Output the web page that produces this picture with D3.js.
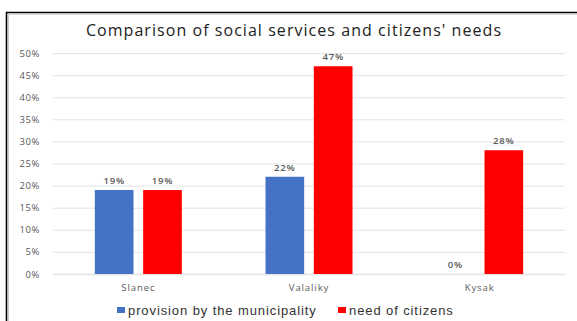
<!DOCTYPE html>
<html><head><meta charset="utf-8">
<script src="https://cdn.jsdelivr.net/npm/d3@7"></script>
<style>body{margin:0;background:#fff}svg{display:block}</style>
</head><body>
<svg id="c" width="577" height="321"></svg>
<script>
const categories = ["Slanec", "Valaliky", "Kysak"];
const seriesNames = ["provision by the municipality", "need of citizens"];
const provision = [19, 22, 0];
const need = [19, 47, 28];
const yTicks = [0, 5, 10, 15, 20, 25, 30, 35, 40, 45, 50];
const colors = ["#4472C4", "#FF0000"];
const title = "Comparison of social services and citizens' needs";

const svg = d3.select("#c");
// frame
svg.append("path").attr("d","M6.5,321 L6.5,12.5 L577,12.5").attr("fill","none").attr("stroke","#000").attr("stroke-width",1.6);
svg.append("path").attr("d","M8.5,321 L8.5,14.3 L577,14.3").attr("fill","none").attr("stroke","#ccc").attr("stroke-width",1);

const m = {l:53, r:565, t:53, b:274};
const x0 = d3.scaleBand().domain(categories).range([m.l, m.r]);
const x1 = d3.scaleBand().domain(seriesNames).range([0, 87]).paddingInner(0.2);
const y = d3.scaleLinear().domain([0, 50]).range([m.b, m.t]);

svg.append("text").attr("x", 294).attr("y", 36).attr("text-anchor","middle")
  .attr("font-family","Open Sans").attr("font-size",16).attr("letter-spacing",1.05).attr("fill","#222").text(title);

const yAxis = d3.axisLeft(y).tickValues(yTicks).tickSize(-(m.r-m.l)).tickFormat(d=>d+"%");
const gy = svg.append("g").attr("transform",`translate(${m.l},0)`).call(yAxis);
gy.select(".domain").remove();
gy.selectAll(".tick line").attr("stroke","#e3e3e3").attr("stroke-width",1);
gy.selectAll(".tick text").attr("x",-13).attr("font-family","Open Sans").attr("font-size",9.5).attr("letter-spacing",0.6).attr("fill","#595959");

const xAxis = d3.axisBottom(x0).tickSize(0).tickPadding(10);
const gx = svg.append("g").attr("transform",`translate(0,${m.b})`).call(xAxis);
gx.select(".domain").attr("stroke","#e3e3e3").attr("stroke-width",1.5);
gx.selectAll(".tick text").attr("font-family","Open Sans").attr("font-size",9.5).attr("letter-spacing",0.9).attr("fill","#595959");

const data = categories.map((c,i)=>({c, vals:[provision[i], need[i]]}));
const g = svg.selectAll(".grp").data(data).join("g")
  .attr("transform", d=>`translate(${x0(d.c)+x0.bandwidth()/2-43.5},0)`);
g.selectAll("rect").data(d=>d.vals.map((v,j)=>({v, s:seriesNames[j], j}))).join("rect")
  .attr("x", d=>x1(d.s)).attr("width", x1.bandwidth())
  .attr("y", d=>y(d.v)).attr("height", d=>y(0)-y(d.v))
  .attr("fill", d=>colors[d.j]);
g.selectAll("text").data(d=>d.vals.map((v,j)=>({v, s:seriesNames[j], j}))).join("text")
  .attr("x", d=>x1(d.s)+x1.bandwidth()/2).attr("y", d=>y(d.v)-6)
  .attr("text-anchor","middle").attr("font-family","Open Sans").attr("font-weight","600")
  .attr("font-size",9.5).attr("letter-spacing",0.8).attr("fill","#595959").text(d=>d.v+"%");

// legend
const legX = [117, 338];
const lg = svg.selectAll(".leg").data(seriesNames).join("g").attr("transform",(d,i)=>`translate(${legX[i]},310)`);
lg.append("rect").attr("x",0).attr("y",-3).attr("width",8).attr("height",6).attr("fill",(d,i)=>colors[i]);
lg.append("text").attr("x",11).attr("y",4.5).attr("font-family","Liberation Sans").attr("font-size",13).attr("letter-spacing",0.9).attr("fill","#333").text(d=>d);
</script>
</body></html>
